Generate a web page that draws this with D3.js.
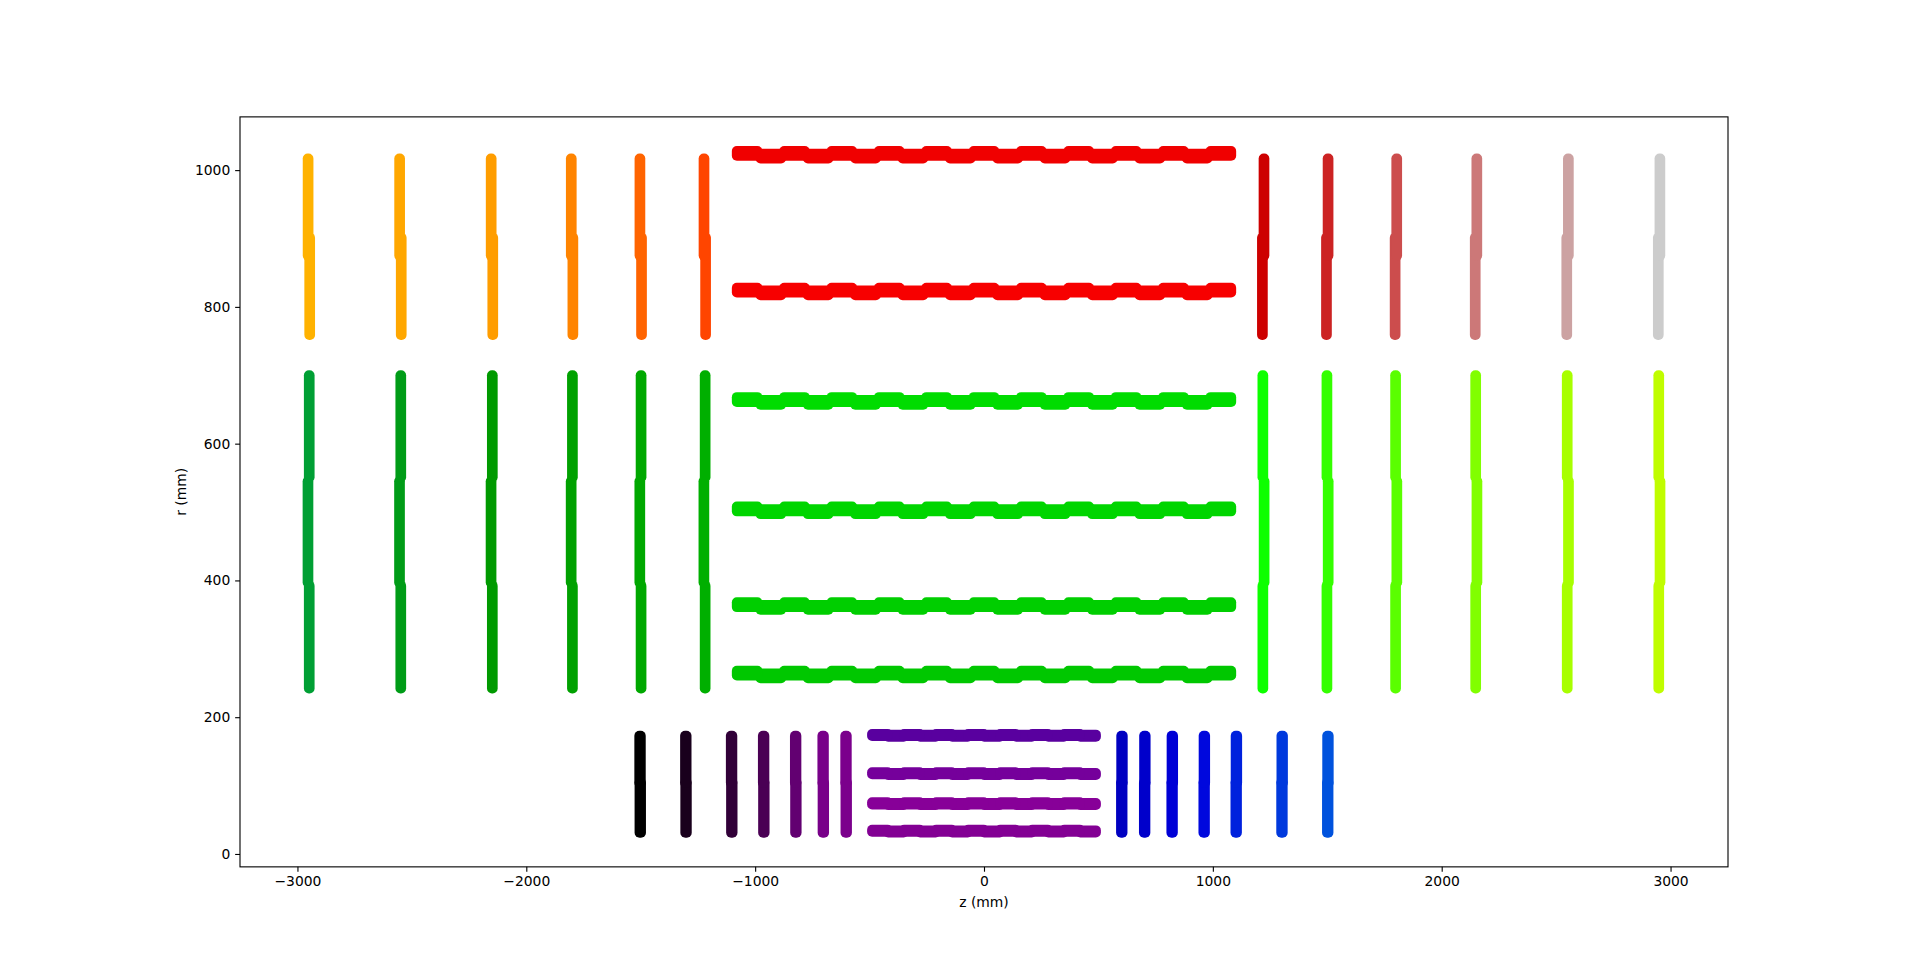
<!DOCTYPE html>
<html><head><meta charset="utf-8">
<script src="https://cdn.jsdelivr.net/npm/d3@7"></script>
<style>html,body{margin:0;padding:0;background:#fff;overflow:hidden}
text{font-family:"DejaVu Sans",sans-serif;font-size:13.89px;fill:#000}</style>
</head><body><svg id="chart" width="1920" height="974"></svg>
<script>
// ---------------- data (mm) ----------------
// endcap layer positions (z) and their layer ids
const pixelLeftZ   = [-1502, -1302, -1102, -962, -822, -702, -602];   // volume 7
const pixelRightZ  = [602, 702, 822, 962, 1102, 1302, 1502];          // volume 9
const stripLeftZ   = [-2950, -2550, -2150, -1800, -1500, -1220];      // volumes 12, 16
const stripRightZ  = [1220, 1500, 1800, 2150, 2550, 2950];            // volumes 14, 18
const pixelEndcapLayers = [2, 4, 6, 8, 10, 12, 14];
const stripEndcapLayers = [2, 4, 6, 8, 10, 12];
// endcap rings: r extent and outward z shift
const pixelRingRMin = [31, 104];
const pixelRingRMax = [104, 173];
const pixelRingShift = [0, 1];
const shortRingRMin = [242, 397, 551];
const shortRingRMax = [392, 545, 700];
const shortRingShift = [-1.5, 4, -1.5];
const longRingRMin = [759, 875];
const longRingRMax = [901, 1017];
const longRingShift = [-3.5, 3.5];
// barrel layers
const pixelBarrelR = [32, 72, 116, 172];        // volume 8
const shortBarrelR = [260, 360, 500, 660];      // volume 13
const longBarrelR  = [820, 1020];               // volume 17
const barrelLayers = [2, 4, 6, 8];
// barrel module centres along z and whether module sits on the outer row
const stripModuleZ = [-1035, -931.5, -828, -724.5, -621, -517.5, -414, -310.5, -207, -103.5, 0,
                      103.5, 207, 310.5, 414, 517.5, 621, 724.5, 828, 931.5, 1035];
const stripModuleOuter = [1,0,1,0,1,0,1,0,1,0,1,0,1,0,1,0,1,0,1,0,1];
const pixelModuleZ = [-455, -385, -315, -245, -175, -105, -35, 35, 105, 175, 245, 315, 385, 455];
const pixelModuleOuter = [1,0,1,0,1,0,1,0,1,0,1,0,1,0];
// axis ticks
const zTicks = [-3000, -2000, -1000, 0, 1000, 2000, 3000];
const zTickLabels = ["\u22123000", "\u22122000", "\u22121000", "0", "1000", "2000", "3000"];
const rTicks = [0, 200, 400, 600, 800, 1000];
const rTickLabels = ["0", "200", "400", "600", "800", "1000"];

// nipy_spectral colormap (matplotlib), samples at 0, 0.05, ..., 1
const nipyR = [0,0.4667,0.5333,0,0,0,0,0,0,0,0,0,0,0.7333,0.9333,1,1,1,0.8667,0.8,0.8];
const nipyG = [0,0,0,0,0,0.4667,0.6,0.6667,0.6667,0.6,0.7333,0.8667,1,1,0.9333,0.8,0.6,0,0,0,0.8];
const nipyB = [0,0.5333,0.6,0.6667,0.8667,0.8667,0.8667,0.6667,0.5333,0,0,0,0,0,0,0,0,0,0,0,0.8];

// ---------------- build module list ----------------
const pieces = [];
function addEndcap(vol, zs, layers, rMin, rMax, shift, zHalf) {
  zs.forEach((z, i) => {
    const s = Math.sign(z);
    rMin.forEach((r0, j) => {
      const zc = z + s * shift[j];
      pieces.push({vol, layer: layers[i], z0: zc - zHalf, z1: zc + zHalf, r0, r1: rMax[j]});
    });
  });
}
function addBarrel(vol, radii, layers, modZ, modOuter, halfLen, outer, inner) {
  radii.forEach((R, i) => {
    [0, 1].forEach(pass => {
      modZ.forEach((zc, k) => {
        if (modOuter[k] !== pass) return;
        const span = pass ? outer : inner;
        pieces.push({vol, layer: layers[i], z0: zc - halfLen, z1: zc + halfLen, r0: R + span[0], r1: R + span[1]});
      });
    });
  });
}
addEndcap(7, pixelLeftZ, pixelEndcapLayers, pixelRingRMin, pixelRingRMax, pixelRingShift, 3);
addBarrel(8, pixelBarrelR, barrelLayers, pixelModuleZ, pixelModuleOuter, 34, [0.5, 3.5], [-0.5, 2.5]);
addEndcap(9, pixelRightZ, pixelEndcapLayers, pixelRingRMin, pixelRingRMax, pixelRingShift, 3);
addEndcap(12, stripLeftZ, stripEndcapLayers, shortRingRMin, shortRingRMax, shortRingShift, 1.5);
addBarrel(13, shortBarrelR, barrelLayers, stripModuleZ, stripModuleOuter, 45, [1, 8], [-3, 4]);
addEndcap(14, stripRightZ, stripEndcapLayers, shortRingRMin, shortRingRMax, shortRingShift, 1.5);
addEndcap(16, stripLeftZ, stripEndcapLayers, longRingRMin, longRingRMax, longRingShift, 1.5);
addBarrel(17, longBarrelR, barrelLayers, stripModuleZ, stripModuleOuter, 45, [1, 8], [-3, 4]);
addEndcap(18, stripRightZ, stripEndcapLayers, longRingRMin, longRingRMax, longRingShift, 1.5);

// ---------------- scales ----------------
const axL = 240, axR = 1728, axT = 116.88, axB = 866.86;
const zMin = d3.min(pieces, p => p.z0), zMax = d3.max(pieces, p => p.z1);
const rMin = d3.min(pieces, p => p.r0), rMax = d3.max(pieces, p => p.r1);
const zPad = 0.05 * (zMax - zMin), rPad = 0.05 * (rMax - rMin);
const x = d3.scaleLinear().domain([zMin - zPad, zMax + zPad]).range([axL, axR]);
const y = d3.scaleLinear().domain([rMin - rPad, rMax + rPad]).range([axB, axT]);

const cval = p => p.vol + 0.06 * p.layer;
const cMin = d3.min(pieces, cval), cMax = d3.max(pieces, cval);
function nipy(t) {
  t = Math.max(0, Math.min(1, t));
  const u = t * 20, i = Math.min(19, Math.floor(u)), f = u - i;
  const c = a => Math.round(255 * (a[i] + (a[i + 1] - a[i]) * f));
  return d3.rgb(c(nipyR), c(nipyG), c(nipyB)).formatHex();
}
const color = p => nipy((cval(p) - cMin) / (cMax - cMin));

// ---------------- draw ----------------
const svg = d3.select("#chart");
svg.append("rect").attr("width", 1920).attr("height", 974).attr("fill", "#fff");

svg.append("g").selectAll("rect").data(pieces).join("rect")
  .attr("x", p => x(p.z0))
  .attr("y", p => y(p.r1))
  .attr("width", p => x(p.z1) - x(p.z0))
  .attr("height", p => y(p.r0) - y(p.r1))
  .attr("fill", color)
  .attr("stroke", color)
  .attr("stroke-width", 10)
  .attr("stroke-linejoin", "round");

const tickLen = 4.86, tickPad = 4.86;
const gx = svg.append("g").attr("transform", `translate(0,${axB})`)
  .call(d3.axisBottom(x).tickValues(zTicks).tickFormat((d, i) => zTickLabels[i])
        .tickSize(tickLen).tickPadding(tickPad));
const gy = svg.append("g").attr("transform", `translate(${axL},0)`)
  .call(d3.axisLeft(y).tickValues(rTicks).tickFormat((d, i) => rTickLabels[i])
        .tickSize(tickLen).tickPadding(tickPad));
[gx, gy].forEach(g => {
  g.select(".domain").remove();
  g.selectAll(".tick line").attr("stroke", "#000").attr("stroke-width", 1.11);
  g.selectAll(".tick text").attr("font-family", "DejaVu Sans").attr("font-size", 13.89).attr("fill", "#000");
});

svg.append("rect").attr("x", axL).attr("y", axT).attr("width", axR - axL).attr("height", axB - axT)
  .attr("fill", "none").attr("stroke", "#000").attr("stroke-width", 1.11);

svg.append("text").attr("x", (axL + axR) / 2).attr("y", 906.5).attr("text-anchor", "middle").text("z (mm)");
svg.append("text").attr("transform", `translate(185.5,${(axT + axB) / 2}) rotate(-90)`)
  .attr("text-anchor", "middle").text("r (mm)");
</script></body></html>
